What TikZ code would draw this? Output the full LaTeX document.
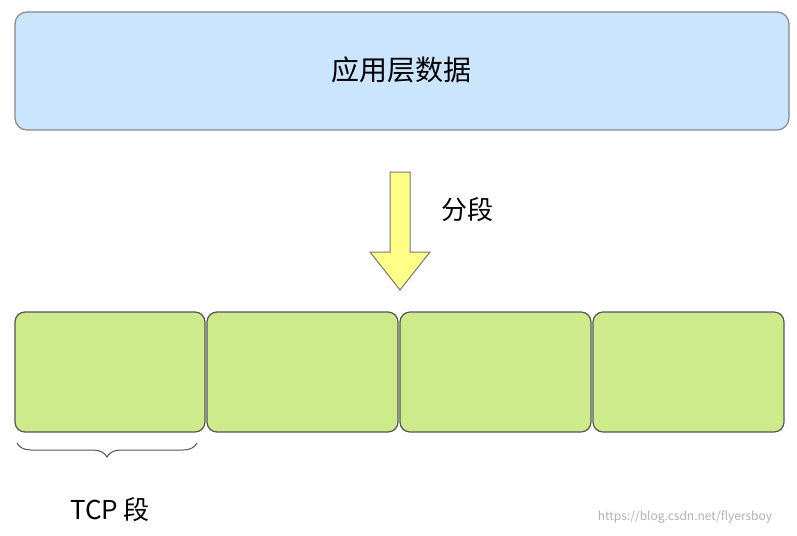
\documentclass[tikz,border=0pt]{standalone}
\usepackage{fontspec}
\setmainfont{Noto Sans CJK SC}
\usetikzlibrary{decorations.pathreplacing}
\definecolor{bluef}{HTML}{CCE5FF}
\definecolor{greenf}{HTML}{CDEB8B}
\definecolor{yel}{HTML}{FFFF88}
\definecolor{bord}{HTML}{555555}
\tikzset{seg/.style={draw=bord,line width=1.2pt,fill=greenf,rounded corners=10pt}}
\begin{document}
\begin{tikzpicture}[x=1pt,y=-1pt]
\useasboundingbox (0,0) rectangle (797,535);
\draw[draw=bord!70,line width=1.2pt,fill=bluef,rounded corners=12pt] (15,12) rectangle (789,130);
\node[font=\fontsize{28}{32}\selectfont] (app) at (401,70) {应用层数据};
\draw[draw=bord!80,line width=1pt,fill=yel] (390,172) -- (410,172) -- (410,252) -- (430,252) -- (400,290) -- (370,252) -- (390,252) -- cycle;
\node[font=\fontsize{26}{30}\selectfont] (fd) at (467,210) {分段};
\draw[seg] (15,312) rectangle (205,432);
\draw[seg] (207,312) rectangle (398,432);
\draw[seg] (400,312) rectangle (591,432);
\draw[seg] (593,312) rectangle (784,432);
\draw[bord,line width=1pt,decorate,decoration={brace,mirror,amplitude=14pt}] (17,443) -- (197,443);
\node[font=\fontsize{26}{30}\selectfont] (tcp) at (110,510) {TCP 段};
\node[font=\fontsize{12}{14}\selectfont,text=gray!60] (wm) at (685,517) {https://blog.csdn.net/flyersboy};
\end{tikzpicture}
\end{document}
